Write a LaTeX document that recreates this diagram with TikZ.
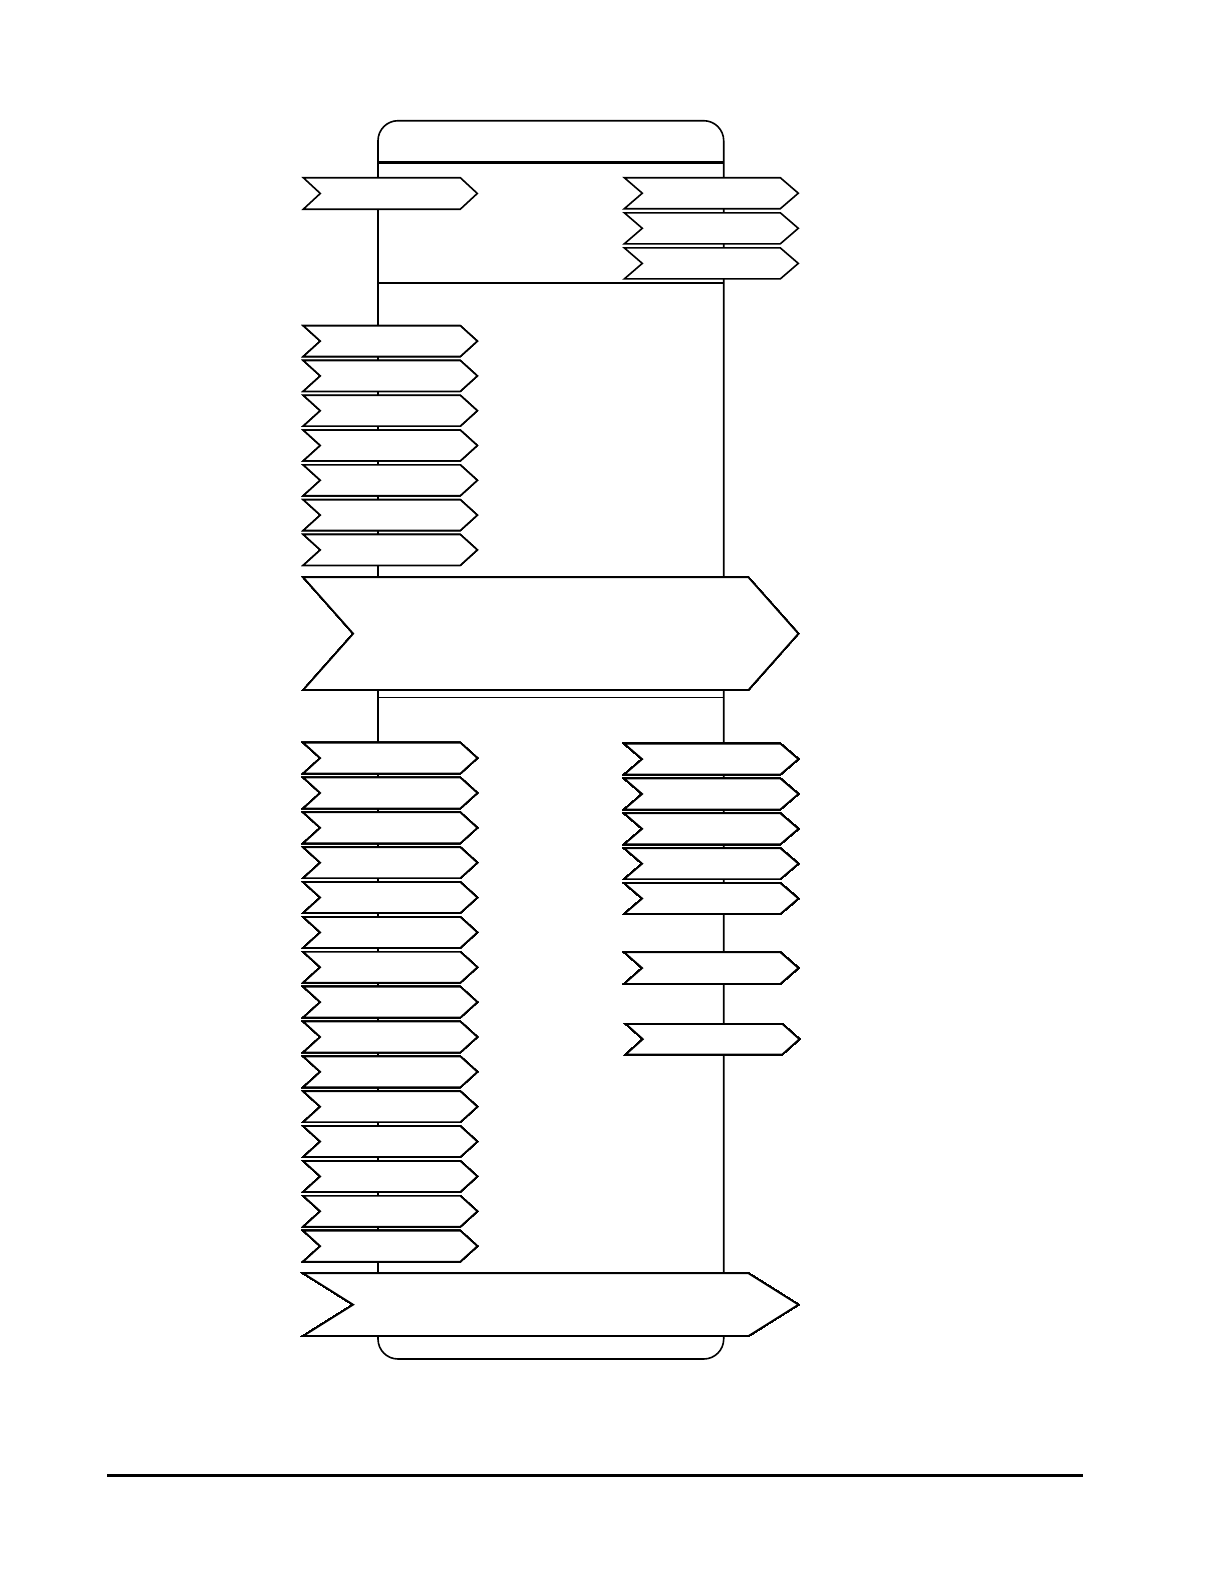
\documentclass[tikz,border=0pt]{standalone}
\usepackage{tikz}
\usetikzlibrary{calc}

% one chevron: left x, top y, width, height, point depth
\newcommand{\chevron}[5]{%
  \draw[chev] (#1,#2) -- ++(#3-#5,0) -- ++(#5,#4/2) -- ++(-#5,#4/2)
    -- ++(-#3+#5,0) -- ++(#5,-#4/2) -- cycle;}

\begin{document}
\begin{tikzpicture}[x=0.5bp,y=-0.5bp,
    chev/.style={draw,fill=white,line width=0.8bp,line join=miter},
    frame/.style={draw,line width=0.8bp}]
	\useasboundingbox (0,0) rectangle (1224,1584);
	%FRAME
	\draw[frame,rounded corners=10bp] (378,120.7) rectangle (723.7,1359);
	\draw[line width=1.3bp] (378,162.7) -- (723.7,162.7);
	\draw[frame] (378,283) -- (723.7,283);
	\draw[frame] (378,697.3) -- (723.7,697.3);
	%TOP SECTION
	\chevron{303.3}{177.7}{174}{31.5}{17}
	\foreach \i in {0,1,2}
	  \chevron{624.3}{177.7+35.1*\i}{174}{31}{18}
	%MIDDLE SECTION
	\foreach \i in {0,...,6}
	  \chevron{303.3}{325.7+34.8*\i}{174}{30.8}{17}
	\chevron{303.3}{577.3}{495}{112.7}{50}
	%LOWER SECTION
	\foreach \i in {0,...,14}
	  \chevron{303.3}{742.7+34.86*\i}{174}{30.8}{17}
	\foreach \i in {0,...,4}
	  \chevron{624.3}{743.7+34.86*\i}{174}{30.8}{18}
	\chevron{624.3}{952.3}{174}{31.5}{18}
	\chevron{626}{1024}{173.3}{30.3}{17}
	\chevron{303.3}{1273.3}{495}{62.7}{50}
	%RULE
	\draw[line width=1.5bp] (107.3,1475.7) -- (1082.7,1475.7);
\end{tikzpicture}
\end{document}
